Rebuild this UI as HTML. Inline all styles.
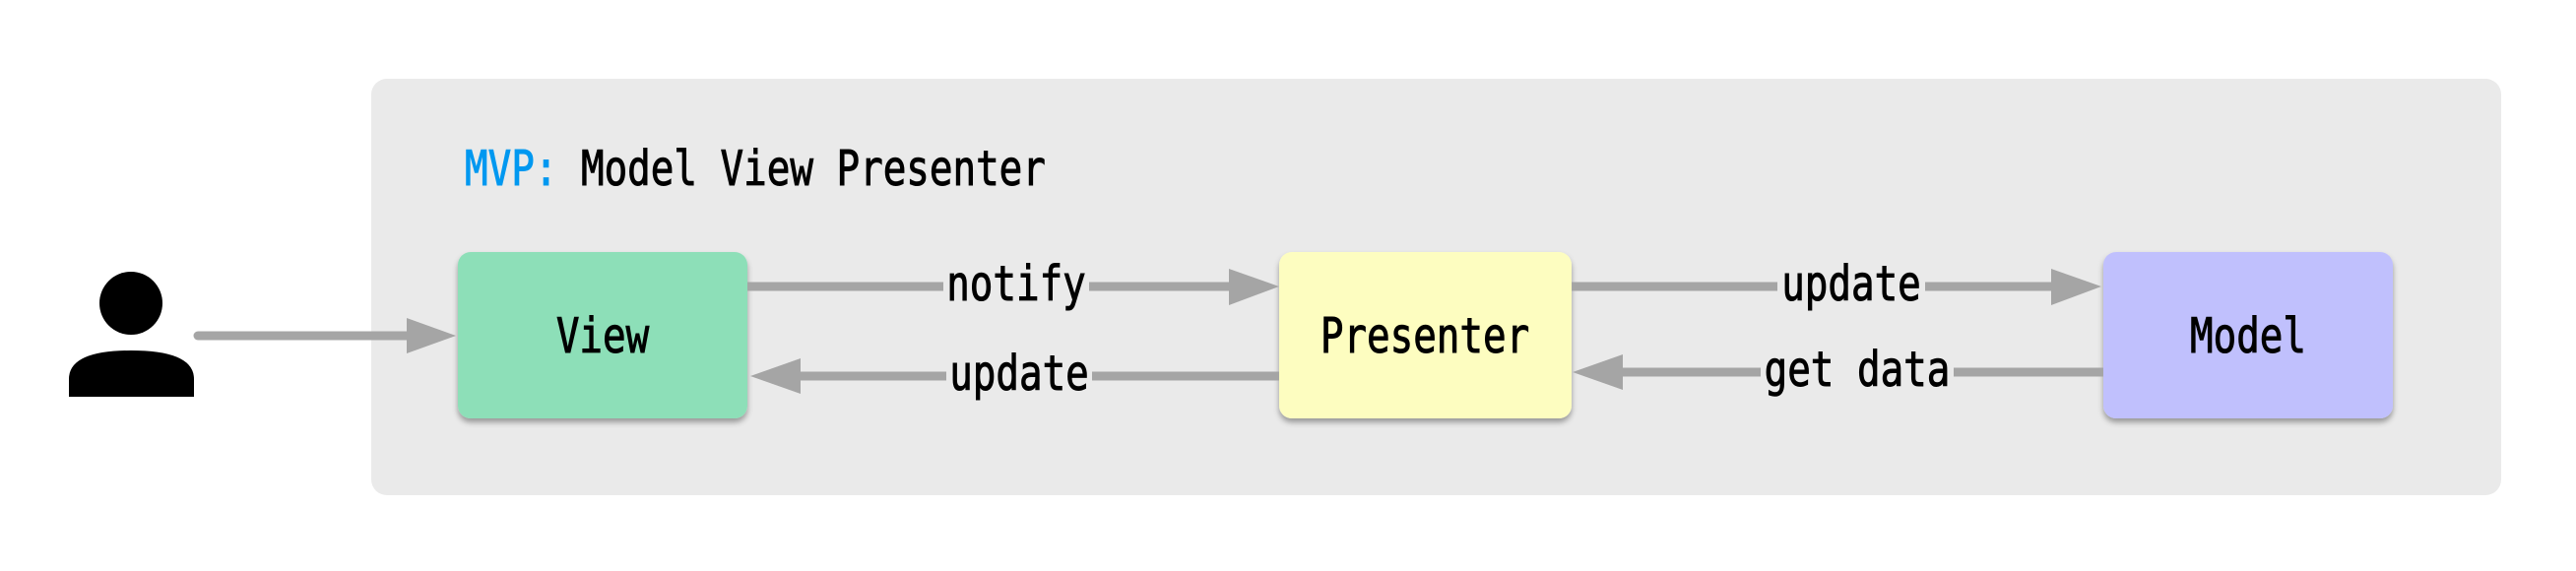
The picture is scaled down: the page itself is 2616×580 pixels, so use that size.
<!DOCTYPE html>
<html><head><meta charset="utf-8"><style>
html,body{margin:0;padding:0;background:#fff;}
svg{display:block;}
text{font-family:"DejaVu Sans Mono","Liberation Mono",monospace;font-size:39.2px;stroke-width:0.8px;}
</style></head><body>
<svg width="2616" height="580" viewBox="0 0 2616 580" xmlns="http://www.w3.org/2000/svg">
<defs>
<filter id="sh" x="-10%" y="-10%" width="120%" height="130%">
<feDropShadow dx="0" dy="4" stdDeviation="3" flood-color="#000" flood-opacity="0.35"/>
</filter>
</defs>
<rect x="377" y="80" width="2163" height="423" rx="16" fill="#eaeaea"/>
<g transform="translate(472,188) scale(1,1.25)">
<text x="0" y="0"><tspan fill="#0098f0" stroke="#0098f0">MVP:</tspan><tspan fill="#000" stroke="#000"> Model View Presenter</tspan></text>
</g>
<circle cx="133" cy="308" r="32" fill="#000"/>
<path d="M70 403 L70 385 Q70 356 133 356 Q197 356 197 385 L197 403 Z" fill="#000"/>
<line x1="201" y1="341" x2="415" y2="341" stroke="#a5a5a5" stroke-width="9" stroke-linecap="round"/>
<polygon points="413,323 463,341 413,359" fill="#a5a5a5"/>
<rect x="465" y="256" width="294" height="169" rx="13" fill="#8ddfb8" filter="url(#sh)"/>
<rect x="1299" y="256" width="297" height="169" rx="13" fill="#fdfdc0" filter="url(#sh)"/>
<rect x="2136" y="256" width="294" height="169" rx="13" fill="#c0c0fd" filter="url(#sh)"/>
<line x1="759" y1="291" x2="1250" y2="291" stroke="#a5a5a5" stroke-width="9"/>
<polygon points="1248,273 1299,291 1248,310" fill="#a5a5a5"/>
<line x1="1299" y1="382" x2="811" y2="382" stroke="#a5a5a5" stroke-width="9"/>
<polygon points="813,364 762,382 813,400" fill="#a5a5a5"/>
<line x1="1596" y1="291" x2="2085" y2="291" stroke="#a5a5a5" stroke-width="9"/>
<polygon points="2083,273 2134,291 2083,310" fill="#a5a5a5"/>
<line x1="2136" y1="378" x2="1646" y2="378" stroke="#a5a5a5" stroke-width="9"/>
<polygon points="1648,360 1597,378 1648,396" fill="#a5a5a5"/>
<rect x="958" y="278" width="148" height="26" fill="#eaeaea"/>
<rect x="961" y="369" width="148" height="26" fill="#eaeaea"/>
<rect x="1805" y="278" width="150" height="26" fill="#eaeaea"/>
<rect x="1788" y="365" width="196" height="26" fill="#eaeaea"/>
<g stroke="#000" fill="#000">
<g transform="translate(1032,305) scale(1,1.25)"><text text-anchor="middle">notify</text></g>
<g transform="translate(1035,396) scale(1,1.25)"><text text-anchor="middle">update</text></g>
<g transform="translate(1880,305) scale(1,1.25)"><text text-anchor="middle">update</text></g>
<g transform="translate(1886,392) scale(1,1.25)"><text text-anchor="middle">get data</text></g>
<g transform="translate(612,358) scale(1,1.25)"><text text-anchor="middle">View</text></g>
<g transform="translate(1447,358) scale(1,1.25)"><text text-anchor="middle">Presenter</text></g>
<g transform="translate(2283,358) scale(1,1.25)"><text text-anchor="middle">Model</text></g>
</g>
</svg>
</body></html>
